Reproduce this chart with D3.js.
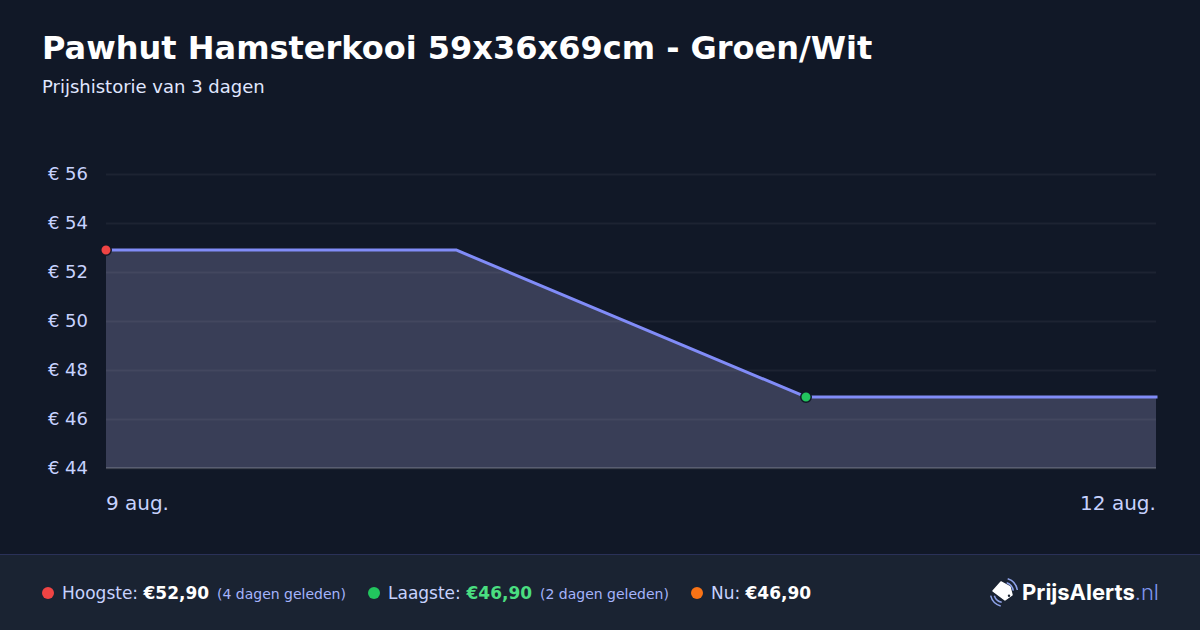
<!DOCTYPE html>
<html>
<head>
<meta charset="utf-8">
<script src="https://cdn.jsdelivr.net/npm/d3@7"></script>
<style>
  html, body { margin: 0; padding: 0; background: #111827; }
  svg { display: block; font-family: "DejaVu Sans", sans-serif; }
</style>
</head>
<body>
<svg width="1200" height="630"></svg>
<script>
var title = "Pawhut Hamsterkooi 59x36x69cm - Groen/Wit"
var subtitle = "Prijshistorie van 3 dagen"
var days = [0, 1, 2, 3]
var prices = [52.9, 52.9, 46.9, 46.9]
var yTicks = [44, 46, 48, 50, 52, 54, 56]
var xTicks = [0, 3]
var xTickLabels = ["9 aug.", "12 aug."]
var markerDays = [0, 2]
var markerPrices = [52.9, 46.9]
var markerColors = ["#ef4444", "#22c55e"]

var width = 1200
var height = 630
var margin = {left: 106, right: 44, top: 174, bottom: 162}

var svg = d3.select("svg")

var x = d3.scaleLinear().domain([0, 3]).range([margin.left, width - margin.right])
var y = d3.scaleLinear().domain([44, 56]).range([height - margin.bottom, margin.top])

svg.append("rect").attr("width", width).attr("height", height).attr("fill", "#111827")

svg.append("text").attr("x", 42).attr("y", 59)
  .attr("font-size", 32).attr("font-weight", 700).attr("fill", "#ffffff").text(title)
svg.append("text").attr("x", 42).attr("y", 93)
  .attr("font-size", 18).attr("fill", "#e0e7ff").text(subtitle)

// area first, grid runs on top of it
var area = d3.area().x((d, i) => x(days[i])).y0(y(44)).y1(d => y(d))
svg.append("path").datum(prices).attr("d", area).attr("fill", "#393e57")

var yAxis = d3.axisLeft(y).tickValues(yTicks).tickSize(-(width - margin.left - margin.right))
  .tickFormat(d => "€ " + d).tickPadding(18)
var yG = svg.append("g").attr("transform", `translate(${margin.left},0)`).call(yAxis)
yG.select(".domain").remove()
yG.selectAll("line").attr("stroke", "#ffffff").attr("stroke-opacity", 0.05).attr("stroke-width", 2)
yG.selectAll("text").attr("fill", "#c7d2fe").attr("font-size", 18)
  .attr("font-family", '"DejaVu Sans", sans-serif').attr("y", -0.7).attr("dy", "0.35em")

svg.append("line").attr("x1", x(0)).attr("x2", x(3)).attr("y1", y(44)).attr("y2", y(44))
  .attr("stroke", "#ffffff").attr("stroke-opacity", 0.15).attr("stroke-width", 2)

var xAxis = d3.axisBottom(x).tickValues(xTicks).tickSize(0).tickPadding(0)
  .tickFormat((d, i) => xTickLabels[i])
var xG = svg.append("g").attr("transform", "translate(0,510)").call(xAxis)
xG.select(".domain").remove()
xG.selectAll("text").attr("fill", "#c7d2fe").attr("font-size", 20)
  .attr("font-family", '"DejaVu Sans", sans-serif').attr("x", -0.6).attr("y", 0).attr("dy", 0)
  .attr("text-anchor", (d, i) => i ? "end" : "start")

var line = d3.line().x((d, i) => x(days[i])).y(d => y(d))
svg.append("path").datum(prices).attr("d", line).attr("fill", "none")
  .attr("stroke", "#818cf8").attr("stroke-width", 3).attr("stroke-linejoin", "round")
  .attr("stroke-linecap", "square")

svg.selectAll(".marker").data(markerDays).join("circle").attr("class", "marker")
  .attr("cx", d => x(d)).attr("cy", (d, i) => y(markerPrices[i])).attr("r", 5.25)
  .attr("fill", (d, i) => markerColors[i]).attr("stroke", "#111827").attr("stroke-width", 1.5)

// footer
svg.append("rect").attr("x", 0).attr("y", 554).attr("width", width).attr("height", 76).attr("fill", "#1a2332")
svg.append("line").attr("x1", 0).attr("x2", width).attr("y1", 554.5).attr("y2", 554.5)
  .attr("stroke", "#2a3158").attr("stroke-width", 1)

var footerDots = [48, 374, 697]
var footerColors = ["#ef4444", "#22c55e", "#f97316"]
svg.selectAll(".dot").data(footerDots).join("circle").attr("class", "dot")
  .attr("cx", d => d).attr("cy", 593).attr("r", 6).attr("fill", (d, i) => footerColors[i])

function label(px, text, size, fill, weight) {
  svg.append("text").attr("x", px).attr("y", 599).attr("font-size", size)
    .attr("fill", fill).attr("font-weight", weight || 400).text(text)
}
label(62, "Hoogste:", 17, "#c7d2fe")
label(143.5, "€52,90", 17, "#ffffff", 700)
label(217, "(4 dagen geleden)", 14, "#a5b4fc")
label(388, "Laagste:", 17, "#c7d2fe")
label(466.5, "€46,90", 17, "#4ade80", 700)
label(540, "(2 dagen geleden)", 14, "#a5b4fc")
label(711, "Nu:", 17, "#c7d2fe")
label(745.5, "€46,90", 17, "#ffffff", 700)

// logo
var logo = svg.append("g").attr("transform", "translate(1004,592)")
logo.append("path").attr("d", "M-3,-10 L-11,-1 L1,8 L8,3 L6,-5 Z")
  .attr("fill", "#ffffff").attr("stroke", "#ffffff").attr("stroke-width", 1.5).attr("stroke-linejoin", "round")
logo.append("circle").attr("cx", 5).attr("cy", 3.7).attr("r", 1.2).attr("fill", "#1a2332")
logo.append("path").attr("d", "M2.7,-9.3 A10,10 0 0 1 9.3,-1.3 M3.7,-13.3 A14,14 0 0 1 13.3,-2")
  .attr("fill", "none").attr("stroke", "#8ea2e8").attr("stroke-width", 1.5)
logo.append("path").attr("d", "M-9.7,3.7 A10,10 0 0 0 -2.3,10.3 M-13.3,3.7 A14,14 0 0 0 -3.3,14")
  .attr("fill", "none").attr("stroke", "#8ea2e8").attr("stroke-width", 1.5)

var logoText = svg.append("text").attr("x", 1022).attr("y", 600)
  .attr("font-family", "Inter, sans-serif").attr("font-size", 22)
logoText.append("tspan").attr("font-weight", 700).attr("fill", "#ffffff").text("PrijsAlerts")
logoText.append("tspan").attr("font-weight", 300).attr("fill", "#7f95ec").text(".nl")
</script>
</body>
</html>
